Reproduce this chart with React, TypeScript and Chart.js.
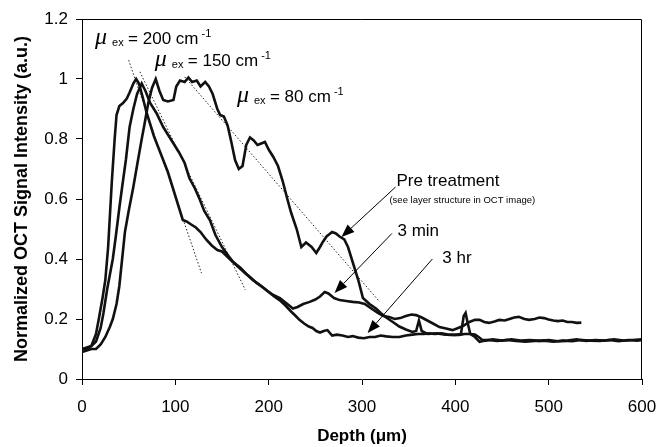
import React, { useEffect, useRef } from 'react';
import { Chart, registerables } from 'chart.js';

Chart.register(...registerables);

// ---- Axis ticks ----
const depthTicks = [0, 100, 200, 300, 400, 500, 600];
const intensityTicks = [0, 0.2, 0.4, 0.6, 0.8, 1, 1.2];

// ---- Pre treatment curve ----
const preDepth = [0, 5, 10, 15, 20, 25, 30, 33, 37, 40, 43, 46, 50, 55, 60, 64, 67, 71, 75, 79, 83, 87, 92, 98, 101, 105, 110, 114, 118, 123, 127, 132, 136, 140, 145, 148, 152, 156, 160, 164, 168, 172, 176, 180, 184, 188, 192, 196, 200, 205, 210, 215, 220, 224, 230, 235, 240, 246, 251, 255, 258, 262, 268, 272, 276, 281, 285, 290, 296, 301, 308, 315, 320, 326, 333, 340, 347, 354, 358, 361, 364, 370, 380, 390, 400, 406, 409, 411, 413, 416, 421, 426, 432, 440, 450, 460, 470, 480, 490, 500, 510, 520, 530, 540, 550, 560, 570, 580, 590, 600];
const preIntensity = [0.09, 0.095, 0.1, 0.1, 0.115, 0.14, 0.175, 0.2, 0.25, 0.31, 0.4, 0.49, 0.56, 0.64, 0.73, 0.8, 0.85, 0.92, 0.97, 1.0, 0.96, 0.93, 0.925, 0.93, 0.975, 0.995, 0.99, 1.005, 0.99, 0.995, 0.975, 0.99, 0.975, 0.95, 0.9, 0.88, 0.875, 0.845, 0.79, 0.73, 0.7, 0.71, 0.78, 0.805, 0.795, 0.78, 0.785, 0.79, 0.765, 0.74, 0.71, 0.66, 0.6, 0.555, 0.5, 0.44, 0.455, 0.44, 0.42, 0.44, 0.457, 0.475, 0.49, 0.485, 0.475, 0.465, 0.44, 0.39, 0.33, 0.27, 0.25, 0.235, 0.22, 0.205, 0.19, 0.175, 0.165, 0.157, 0.16, 0.195, 0.16, 0.15, 0.152, 0.148, 0.147, 0.15, 0.21, 0.22, 0.19, 0.15, 0.14, 0.124, 0.128, 0.132, 0.128, 0.132, 0.128, 0.13, 0.127, 0.13, 0.126, 0.128, 0.132, 0.127, 0.13, 0.128, 0.132, 0.128, 0.13, 0.132];

// ---- 3 min curve ----
const min3Depth = [0, 5, 10, 15, 20, 23, 27, 30, 33, 36, 40, 43, 47, 51, 55, 59, 64, 68, 73, 80, 87, 92, 97, 104, 110, 115, 121, 126, 131, 137, 143, 150, 157, 162, 170, 176, 183, 190, 198, 205, 212, 220, 226, 231, 237, 244, 250, 255, 260, 264, 270, 276, 283, 290, 297, 303, 310, 317, 323, 329, 335, 341, 347, 353, 358, 364, 370, 376, 383, 390, 397, 403, 409, 415, 421, 426, 431, 436, 442, 447, 453, 458, 463, 468, 474, 479, 485, 490, 495, 500, 505, 510, 515, 520, 525, 530, 535];
const min3Intensity = [0.1, 0.105, 0.11, 0.125, 0.17, 0.22, 0.3, 0.35, 0.4, 0.47, 0.57, 0.64, 0.73, 0.84, 0.9, 0.95, 0.985, 0.96, 0.92, 0.885, 0.84, 0.815, 0.79, 0.755, 0.72, 0.67, 0.635, 0.6, 0.56, 0.53, 0.48, 0.44, 0.41, 0.39, 0.37, 0.35, 0.33, 0.315, 0.295, 0.28, 0.27, 0.25, 0.235, 0.24, 0.25, 0.257, 0.265, 0.275, 0.29, 0.285, 0.27, 0.263, 0.26, 0.257, 0.255, 0.25, 0.235, 0.22, 0.21, 0.207, 0.2, 0.203, 0.21, 0.215, 0.213, 0.205, 0.195, 0.185, 0.173, 0.168, 0.163, 0.17, 0.178, 0.19, 0.197, 0.197, 0.19, 0.187, 0.192, 0.197, 0.195, 0.2, 0.205, 0.207, 0.2, 0.197, 0.2, 0.205, 0.203, 0.198, 0.195, 0.193, 0.195, 0.19, 0.19, 0.187, 0.188];

// ---- 3 hr curve ----
const hr3Depth = [0, 5, 10, 15, 18, 22, 25, 28, 30, 32, 35, 37, 40, 44, 48, 51, 55, 58, 61, 65, 69, 73, 77, 82, 87, 92, 97, 101, 105, 108, 112, 117, 122, 127, 133, 139, 145, 150, 155, 160, 167, 174, 180, 187, 194, 200, 206, 212, 218, 224, 229, 233, 238, 243, 247, 251, 255, 259, 263, 268, 273, 279, 285, 290, 296, 302, 308, 314, 320, 326, 333, 340, 347, 354, 360, 366, 372, 378, 385, 392, 398, 404, 410, 416, 421, 425, 429, 435, 445, 455, 465, 475, 485, 495, 505, 515, 525, 535, 545, 555, 565, 575, 585, 595, 600];
const hr3Intensity = [0.1, 0.1, 0.11, 0.15, 0.2, 0.27, 0.33, 0.44, 0.55, 0.66, 0.8, 0.88, 0.91, 0.92, 0.935, 0.955, 0.985, 1.0, 0.985, 0.94, 0.89, 0.85, 0.81, 0.77, 0.73, 0.69, 0.64, 0.6, 0.56, 0.53, 0.525, 0.515, 0.505, 0.49, 0.465, 0.445, 0.43, 0.425, 0.41, 0.395, 0.375, 0.355, 0.34, 0.32, 0.305, 0.29, 0.275, 0.262, 0.245, 0.225, 0.21, 0.197, 0.185, 0.175, 0.17, 0.16, 0.155, 0.16, 0.163, 0.145, 0.148, 0.145, 0.14, 0.143, 0.138, 0.136, 0.14, 0.14, 0.145, 0.142, 0.14, 0.14, 0.145, 0.148, 0.15, 0.15, 0.152, 0.15, 0.152, 0.148, 0.147, 0.147, 0.15, 0.15, 0.148, 0.14, 0.13, 0.13, 0.127, 0.13, 0.127, 0.124, 0.127, 0.128, 0.124, 0.128, 0.126, 0.13, 0.128, 0.127, 0.13, 0.126, 0.13, 0.128, 0.13];

// ---- Exponential-fit (dotted) lines ----
const fit200Depth = [50, 128];
const fit200Intensity = [1.063, 0.353];
const fit150Depth = [62, 175];
const fit150Intensity = [1.024, 0.297];
const fit80Depth = [110, 319];
const fit80Intensity = [1.007, 0.257];

// ---- Text ----
const muValues = ['200', '150', '80'];
const seriesLabels = ['Pre treatment', '3 min', '3 hr'];
const preNote = '(see layer structure in OCT image)';
const xTitle = 'Depth (\u03bcm)';
const yTitle = 'Normalized OCT Signal Intensity (a.u.)';

const SANS = "'Liberation Sans', Arial, Helvetica, sans-serif";

const pts = (xs: number[], ys: number[]) => xs.map((x, i) => ({ x, y: ys[i] }));

function drawArrow(ctx: CanvasRenderingContext2D, x1: number, y1: number, x2: number, y2: number) {
  const ang = Math.atan2(y2 - y1, x2 - x1);
  const L = 13;
  const W = 5;
  const bx = x2 - L * Math.cos(ang);
  const by = y2 - L * Math.sin(ang);
  ctx.beginPath();
  ctx.moveTo(x1, y1);
  ctx.lineTo(bx, by);
  ctx.stroke();
  ctx.beginPath();
  ctx.moveTo(x2, y2);
  ctx.lineTo(bx + W * Math.sin(ang), by - W * Math.cos(ang));
  ctx.lineTo(bx - W * Math.sin(ang), by + W * Math.cos(ang));
  ctx.closePath();
  ctx.fill();
}

const annotationPlugin = {
  id: 'octAnnotations',
  afterDatasetsDraw(chart: any) {
    const { ctx, chartArea: a } = chart;
    const xs = chart.scales.x;
    const ys = chart.scales.y;
    const X = (v: number) => xs.getPixelForValue(v);
    const Y = (v: number) => ys.getPixelForValue(v);
    ctx.save();
    // box top & right
    ctx.strokeStyle = '#000';
    ctx.lineWidth = 1;
    ctx.beginPath();
    ctx.moveTo(a.left, a.top + 0.5);
    ctx.lineTo(a.right - 0.5, a.top + 0.5);
    ctx.lineTo(a.right - 0.5, a.bottom);
    ctx.stroke();

    ctx.fillStyle = '#000';
    ctx.textAlign = 'left';

    // mu labels (anchor: data coords)
    const muAnchors = [
      { x: 14, y: 1.137 },
      { x: 78, y: 1.063 },
      { x: 166, y: 0.943 },
    ];
    muAnchors.forEach((m, i) => {
      const px = X(m.x);
      const b = Y(m.y) + 6;
      ctx.textBaseline = 'alphabetic';
      ctx.font = "italic 24px 'Liberation Serif', 'DejaVu Serif', serif";
      ctx.fillText('\u03bc', px, b);
      ctx.font = `11px ${SANS}`;
      ctx.fillText('ex', px + 17, b + 2);
      ctx.font = `17px ${SANS}`;
      const t = `= ${muValues[i]} cm`;
      ctx.fillText(t, px + 33, b);
      const w = ctx.measureText(t).width;
      ctx.font = `11px ${SANS}`;
      ctx.fillText('-1', px + 33 + w + 3, b - 7);
    });

    // series labels
    ctx.textBaseline = 'middle';
    ctx.font = `17px ${SANS}`;
    ctx.fillText(seriesLabels[0], X(336.9), Y(0.66));
    ctx.fillText(seriesLabels[1], X(338), Y(0.493));
    ctx.fillText(seriesLabels[2], X(386), Y(0.403));
    ctx.font = `9.5px ${SANS}`;
    ctx.fillText(preNote, X(329.4), Y(0.597));

    // arrows
    ctx.lineWidth = 1;
    drawArrow(ctx, X(336), Y(0.64), X(278), Y(0.473));
    drawArrow(ctx, X(332), Y(0.485), X(270.6), Y(0.287));
    drawArrow(ctx, X(375.4), Y(0.4), X(306), Y(0.153));
    ctx.restore();
  },
};

export default function App() {
  const ref = useRef<HTMLCanvasElement>(null);
  useEffect(() => {
    if (!ref.current) return;
    const curve = (data: any) => ({
      data,
      showLine: true,
      borderColor: '#111',
      borderWidth: 2.6,
      pointRadius: 0,
      tension: 0,
      fill: false,
    });
    const fit = (data: any) => ({
      data,
      showLine: true,
      borderColor: '#222',
      borderWidth: 1,
      borderDash: [1.5, 2],
      pointRadius: 0,
      fill: false,
    });
    const chart = new Chart(ref.current, {
      type: 'scatter',
      data: {
        datasets: [
          curve(pts(preDepth, preIntensity)),
          curve(pts(min3Depth, min3Intensity)),
          curve(pts(hr3Depth, hr3Intensity)),
          fit(pts(fit200Depth, fit200Intensity)),
          fit(pts(fit150Depth, fit150Intensity)),
          fit(pts(fit80Depth, fit80Intensity)),
        ] as any,
      },
      options: {
        animation: false,
        responsive: true,
        maintainAspectRatio: false,
        layout: { padding: { top: 19, right: 15, left: 0, bottom: 0 } },
        plugins: { legend: { display: false }, tooltip: { enabled: false } },
        scales: {
          x: {
            type: 'linear',
            min: depthTicks[0],
            max: depthTicks[depthTicks.length - 1],
            afterBuildTicks: (s: any) => {
              s.ticks = depthTicks.map((v) => ({ value: v }));
            },
            afterFit: (s: any) => {
              s.height = 68;
              s.paddingLeft = 0;
              s.paddingRight = 0;
            },
            grid: { drawOnChartArea: false, tickLength: 6, color: '#000' },
            border: { display: true, color: '#000', width: 1 },
            ticks: {
              color: '#000',
              padding: 12,
              font: { family: SANS, size: 17 },
              callback: (v: any) => String(v),
            },
            title: {
              display: true,
              text: xTitle,
              color: '#000',
              font: { family: SANS, size: 17, weight: 'bold' },
              padding: { top: 0, bottom: 0 },
            },
          },
          y: {
            type: 'linear',
            min: intensityTicks[0],
            max: intensityTicks[intensityTicks.length - 1],
            afterBuildTicks: (s: any) => {
              s.ticks = intensityTicks.map((v) => ({ value: v }));
            },
            afterFit: (s: any) => {
              s.width = 82;
              s.paddingTop = 0;
              s.paddingBottom = 0;
            },
            grid: { drawOnChartArea: false, tickLength: 6, color: '#000' },
            border: { display: true, color: '#000', width: 1 },
            ticks: {
              color: '#000',
              padding: 8,
              font: { family: SANS, size: 17 },
              callback: (v: any) => String(Number(Number(v).toFixed(1))),
            },
            title: {
              display: true,
              text: yTitle,
              color: '#000',
              font: { family: SANS, size: 18, weight: 'bold' },
              padding: { top: 11, bottom: 0 },
            },
          },
        },
      } as any,
      plugins: [annotationPlugin],
    });
    return () => chart.destroy();
  }, []);
  return (
    <div style={{ position: 'fixed', left: 0, top: 0, width: 657, height: 447, background: '#fff' }}>
      <canvas ref={ref} />
    </div>
  );
}
